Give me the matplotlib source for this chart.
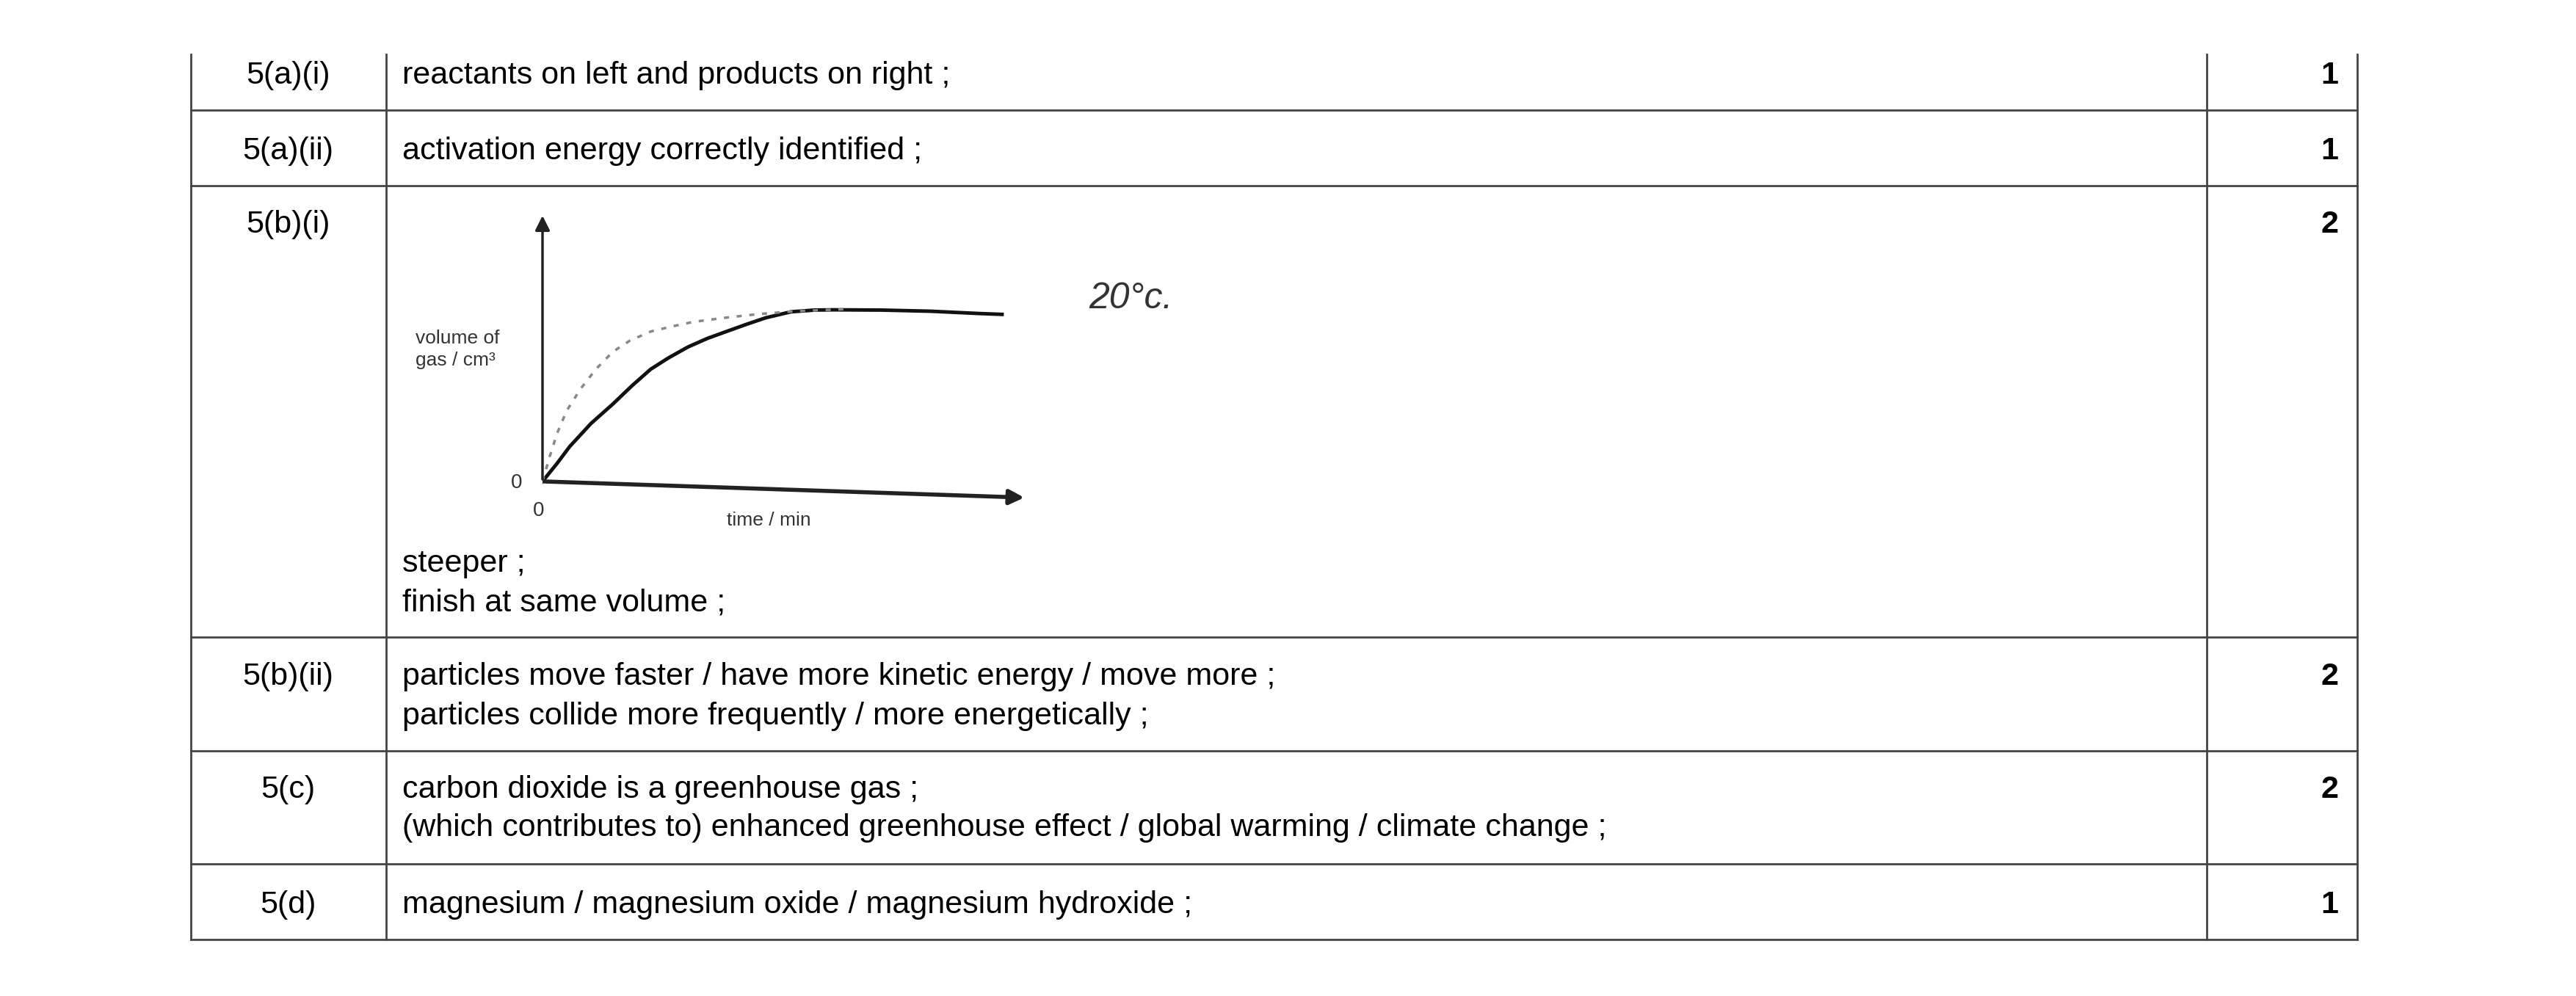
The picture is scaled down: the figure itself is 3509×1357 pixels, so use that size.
import matplotlib
matplotlib.use("Agg")
import matplotlib.pyplot as plt
from matplotlib.lines import Line2D

plt.rcParams['font.family'] = ['Liberation Sans', 'DejaVu Sans']

W, H = 3509, 1357
# table content
labels = ["5(a)(i)", "5(a)(ii)", "5(b)(i)", "5(b)(ii)", "5(c)", "5(d)"]
answers = [
    ["reactants on left and products on right ;"],
    ["activation energy correctly identified ;"],
    ["steeper ;", "finish at same volume ;"],
    ["particles move faster / have more kinetic energy / move more ;",
     "particles collide more frequently / more energetically ;"],
    ["carbon dioxide is a greenhouse gas ;",
     "(which contributes to) enhanced greenhouse effect / global warming / climate change ;"],
    ["magnesium / magnesium oxide / magnesium hydroxide ;"],
]
marks = ["1", "1", "2", "2", "2", "1"]

# curve data (sketch)
t_solid = [0, 0.3, 0.56, 1.0, 1.45, 1.85, 2.23, 2.6, 3.0, 3.4, 3.79, 4.2, 4.6, 5.12, 5.6, 6.0, 7.0, 8.0, 9.0, 9.47]
v_solid = [0.62, 1.25, 1.84, 2.65, 3.33, 3.98, 4.55, 4.95, 5.33, 5.63, 5.87, 6.12, 6.35, 6.56, 6.62, 6.63, 6.62, 6.58, 6.5, 6.47]
t_dash = [0, 0.15, 0.3, 0.5, 0.78, 1.1, 1.45, 1.8, 2.23, 2.7, 3.12, 3.8, 4.45, 5.2, 6.2]
v_dash = [0.62, 1.5, 2.3, 3.1, 3.85, 4.55, 5.16, 5.55, 5.87, 6.06, 6.21, 6.36, 6.48, 6.58, 6.65]

fig = plt.figure(figsize=(W / 100, H / 100), dpi=100)
bg = fig.add_axes([0, 0, 1, 1])
bg.set_xlim(0, W); bg.set_ylim(H, 0); bg.axis('off')

xl, x1, x2, xr = 260, 526, 3006, 3211
top = 74
rows = [150, 253, 868, 1023, 1177, 1280]
lc = '#444444'
for x in (xl, x1, x2, xr):
    bg.add_line(Line2D([x, x], [top, rows[-1]], color=lc, lw=2))
for y in rows:
    bg.add_line(Line2D([xl, xr], [y, y], color=lc, lw=2))

fs = 31
text_y = [[103], [206], [768, 822], [922, 976], [1076, 1128], [1233]]
label_y = [103, 206, 306, 922, 1076, 1233]
for i in range(6):
    bg.text(392, label_y[i], labels[i], fontsize=fs, ha='center', va='center')
    bg.text(3185, label_y[i], marks[i], fontsize=fs, ha='right', va='center', fontweight='bold')
    for line, y in zip(answers[i], text_y[i]):
        bg.text(548, y, line, fontsize=fs, ha='left', va='center')

# graph sketch
ax = fig.add_axes([739 / W, 1 - 680 / H, 661 / W, 389 / H])
ax.set_xlim(0, 10); ax.set_ylim(0, 10); ax.axis('off')
ax.plot(t_solid, v_solid, color='#111111', lw=3.5)
ax.plot(t_dash, v_dash, color='#888888', lw=2.5, ls=(0, (2, 3)))
ax.annotate('', xy=(0, 10), xytext=(0, 0.62),
            arrowprops=dict(arrowstyle='-|>', color='#222222', lw=2.5, mutation_scale=30))
ax.annotate('', xy=(9.97, 0.05), xytext=(0, 0.62),
            arrowprops=dict(arrowstyle='-|>', color='#222222', lw=4, mutation_scale=30))
ax.plot([-0.3, 0.3], [0.62, 0.62], color='#222222', lw=2)

bg.text(566, 476, "volume of\ngas / cm³", fontsize=19, color='#333333', ha='left', va='center',
        linespacing=1.3)
bg.text(704, 658, "0", fontsize=20, color='#333333', ha='center', va='center')
bg.text(734, 696, "0", fontsize=20, color='#333333', ha='center', va='center')
bg.text(1047, 709, "time / min", fontsize=19, color='#333333', ha='center', va='center')
bg.text(1540, 407, "20°c.", fontsize=36, color='#333333', ha='center', va='center', style='italic')

fig.savefig("out.png", dpi=100, facecolor='white')
